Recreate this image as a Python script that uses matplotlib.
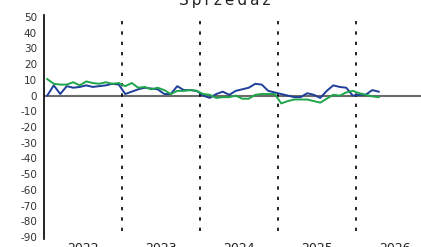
import matplotlib
matplotlib.use("Agg")
import matplotlib.pyplot as plt
import numpy as np

# monthly data, Jan 2022 .. Apr 2026
years = ["2022", "2023", "2024", "2025", "2026"]
blue = [0, 6.5, 1, 6, 5, 5.5, 6.5, 5.5, 6, 6.5, 7.5, 7,
        1, 2.5, 4, 5, 4.5, 4, 1, 1, 6, 3.5, 3.5, 3,
        0, -1.5, 1, 2.5, 0.5, 3, 4, 5, 7.5, 7, 3, 2,
        1, 0, -1, -1, 1.5, 0.5, -1.5, 3, 6.5, 5.5, 5, 0,
        0.5, 0.5, 3.5, 2.5]
green = [10.5, 7.5, 7, 7, 8.5, 6.5, 9, 8, 7.5, 8.5, 7.5, 8,
         6, 8, 5, 5.5, 4, 5, 3.5, 1, 3, 3, 3.5, 3,
         1, 0.5, -1.5, -1, -1, 0, -2, -2, 0.5, 1, 1, 1,
         -5, -3.5, -2.5, -2.5, -2.5, -3.5, -4.5, -2, 0.5, 0, 2, 3,
         1.5, 0.5, -0.5, -1]
yticks = list(range(-90, 51, 10))

fig = plt.figure(figsize=(4.21, 2.47), dpi=100)
ax = fig.add_axes([44 / 421, 1 - 239 / 247, 1 - 44 / 421, 224 / 247])

x = np.arange(len(blue)) + 0.5
ax.axhline(0, color="#6b6b6b", lw=1.5, zorder=1)
for b in [12, 24, 36, 48]:
    ax.axvline(b, ymin=0.035, ymax=1, color="black", lw=1.2,
               linestyle=(0, (2.0, 4.2)), zorder=1)

ax.plot(x, green, color="#1fa64a", lw=1.4, zorder=3)
ax.plot(x, blue, color="#203f9a", lw=1.4, zorder=2)

ax.set_xlim(0, 58)
ax.set_ylim(-91.3, 51.3)
ax.set_yticks(yticks)
ax.set_yticklabels([str(v) for v in yticks], fontsize=7.5, color="#333333")
ax.tick_params(axis="y", length=0, pad=5)
ax.set_xticks([6, 18, 30, 42, 54])
ax.set_xticklabels(years, fontsize=9, color="#222222")
ax.tick_params(axis="x", length=0, pad=2)

for s in ["top", "right", "bottom"]:
    ax.spines[s].set_visible(False)
ax.spines["left"].set_linewidth(1.2)

fig.text(225 / 421, 1 - 5 / 247, "\u2009".join("Sprzedaż"), ha="center",
         va="baseline", fontsize=11, color="#222222")

fig.savefig("out.png", dpi=100)
